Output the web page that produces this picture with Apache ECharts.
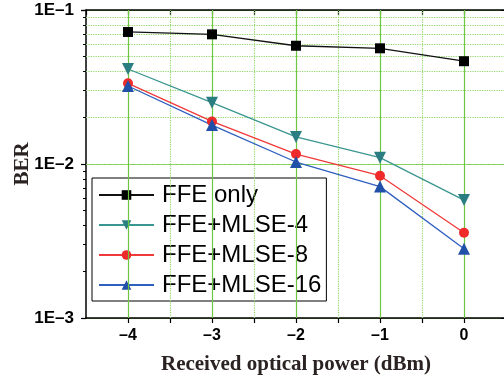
<!DOCTYPE html>
<html>
<head>
<meta charset="utf-8">
<script src="https://cdn.jsdelivr.net/npm/echarts@6/dist/echarts.min.js"></script>
<style>
  html, body { margin: 0; padding: 0; background: #fff; }
  #chart { width: 504px; height: 378px; }
</style>
</head>
<body>
<div id="chart"></div>
<script>
// received optical power (dBm)
const powers = [-4, -3, -2, -1, 0];
// BER per equalizer
const ffeOnly = [0.072, 0.0695, 0.0586, 0.0564, 0.0465];
const ffeMlse4 = [0.0414, 0.025, 0.0150, 0.0110, 0.00583];
const ffeMlse8 = [0.0334, 0.0189, 0.0116, 0.00839, 0.00358];
const ffeMlse16 = [0.0321, 0.0179, 0.0103, 0.00713, 0.00282];
// log minor grid values and half-step x grid
const yMinor = [0.002, 0.003, 0.004, 0.005, 0.006, 0.007, 0.008, 0.009,
                0.02, 0.03, 0.04, 0.05, 0.06, 0.07, 0.08, 0.09];
const xMinor = [-3.5, -2.5, -1.5, -0.5];

const GREEN = '#6cc63f';
const DOT_GREEN = '#8fd66a';

const pair = (ys) => powers.map((x, i) => [x, ys[i]]);

const chart = echarts.init(document.getElementById('chart'));

const dash = (v) => {
  if (Math.abs(v - Math.round(v)) > 1e-6) return '';
  const r = Math.round(v);
  return r < 0 ? '\u2013' + (-r) : String(r);
};

chart.setOption({
  animation: false,
  grid: { left: 86, top: 10, width: 420, height: 308, outerBoundsMode: 'none', containLabel: false },
  legend: {
    data: ['FFE only', 'FFE+MLSE-4', 'FFE+MLSE-8', 'FFE+MLSE-16'],
    orient: 'vertical',
    left: 92,
    top: 178,
    padding: [4, 5, 3, 6],
    itemGap: 4,
    itemWidth: 55,
    itemHeight: 12,
    backgroundColor: '#fff',
    borderColor: '#000',
    borderWidth: 1,
    borderRadius: 0,
    textStyle: {
      fontFamily: 'Liberation Sans',
      fontSize: 24,
      lineHeight: 26,
      color: '#000',
      padding: [0, 0, 0, 3],
    },
  },
  xAxis: [
    {
      type: 'value',
      min: -4.5,
      max: 0.5,
      interval: 0.5,
      name: 'Received optical power (dBm)',
      nameLocation: 'middle',
      nameGap: 36,
      nameTextStyle: {
        fontFamily: 'Liberation Serif',
        fontWeight: 'bold',
        fontSize: 21,
        color: '#2b2222',
      },
      axisLine: { onZero: false, lineStyle: { color: '#000', width: 1.5 } },
      axisTick: { show: true, length: 5, lineStyle: { color: '#000', width: 1.2 } },
      axisLabel: {
        formatter: dash,
        fontFamily: 'Liberation Sans',
        fontWeight: 'bold',
        fontSize: 16,
        color: '#000',
        margin: 10,
        showMinLabel: false,
        showMaxLabel: false,
      },
      splitLine: { show: false },
    },
    {
      type: 'value',
      position: 'top',
      min: -4.5,
      max: 0.5,
      interval: 0.5,
      axisLine: { show: true, onZero: false, lineStyle: { color: '#000', width: 1.5 } },
      axisTick: { show: true, inside: true, length: 5, lineStyle: { color: '#000', width: 1.2 } },
      axisLabel: { show: false },
      splitLine: { show: false },
    },
  ],
  yAxis: [
    {
      type: 'log',
      logBase: 10,
      min: 0.001,
      max: 0.1,
      name: 'BER',
      nameLocation: 'middle',
      nameRotate: 90,
      nameGap: 53,
      nameMoveOverlap: false,
      nameTextStyle: {
        fontFamily: 'Liberation Serif',
        fontWeight: 'bold',
        fontSize: 21,
        color: '#2b2222',
      },
      axisLine: { show: true, onZero: false, lineStyle: { color: '#000', width: 1.5 } },
      axisTick: { show: true, length: 5, lineStyle: { color: '#000', width: 1.2 } },
      minorTick: { show: true, splitNumber: 9, length: 3, lineStyle: { color: '#000' } },
      axisLabel: {
        formatter: (v) => '1E\u2013' + Math.round(-Math.log10(v)),
        fontFamily: 'Liberation Sans',
        fontWeight: 'bold',
        fontSize: 17,
        color: '#000',
        margin: 12,
      },
      splitLine: { show: true, lineStyle: { color: GREEN, width: 1 } },
    },
    {
      type: 'log',
      logBase: 10,
      min: 0.001,
      max: 0.1,
      position: 'right',
      axisLine: { show: true, onZero: false, lineStyle: { color: '#000', width: 1.5 } },
      axisTick: { show: true, inside: true, length: 5, lineStyle: { color: '#000' } },
      axisLabel: { show: false },
      splitLine: { show: false },
    },
  ],
  series: [
    {
      name: 'grid',
      type: 'line',
      data: [],
      silent: true,
      z: 1,
      markLine: {
        silent: true,
        symbol: 'none',
        label: { show: false },
        animation: false,
        data: [
          ...yMinor.map((v) => ({ yAxis: v, lineStyle: { color: DOT_GREEN, type: 'dotted', width: 1.2 } })),
          ...xMinor.map((v) => ({ xAxis: v, lineStyle: { color: DOT_GREEN, type: 'dotted', width: 1.2 } })),
          ...powers.map((v) => ({ xAxis: v, lineStyle: { color: GREEN, type: 'solid', width: 1.2 } })),
        ],
      },
    },
    {
      name: 'FFE only',
      type: 'line',
      z: 5,
      data: pair(ffeOnly),
      symbol: 'rect',
      symbolSize: 10,
      itemStyle: { color: '#000' },
      lineStyle: { color: '#111', width: 1.3 },
    },
    {
      name: 'FFE+MLSE-4',
      type: 'line',
      z: 5,
      data: pair(ffeMlse4),
      symbol: 'triangle',
      symbolRotate: 180,
      symbolSize: 12,
      itemStyle: { color: '#2a7d80' },
      lineStyle: { color: '#3a9690', width: 1.3 },
    },
    {
      name: 'FFE+MLSE-8',
      type: 'line',
      z: 5,
      data: pair(ffeMlse8),
      symbol: 'circle',
      symbolSize: 10,
      itemStyle: { color: '#ee2a2a' },
      lineStyle: { color: '#f03a3a', width: 1.3 },
    },
    {
      name: 'FFE+MLSE-16',
      type: 'line',
      z: 5,
      data: pair(ffeMlse16),
      symbol: 'triangle',
      symbolSize: 12,
      itemStyle: { color: '#2150a8' },
      lineStyle: { color: '#2f5fbf', width: 1.3 },
    },
  ],
});
</script>
</body>
</html>
